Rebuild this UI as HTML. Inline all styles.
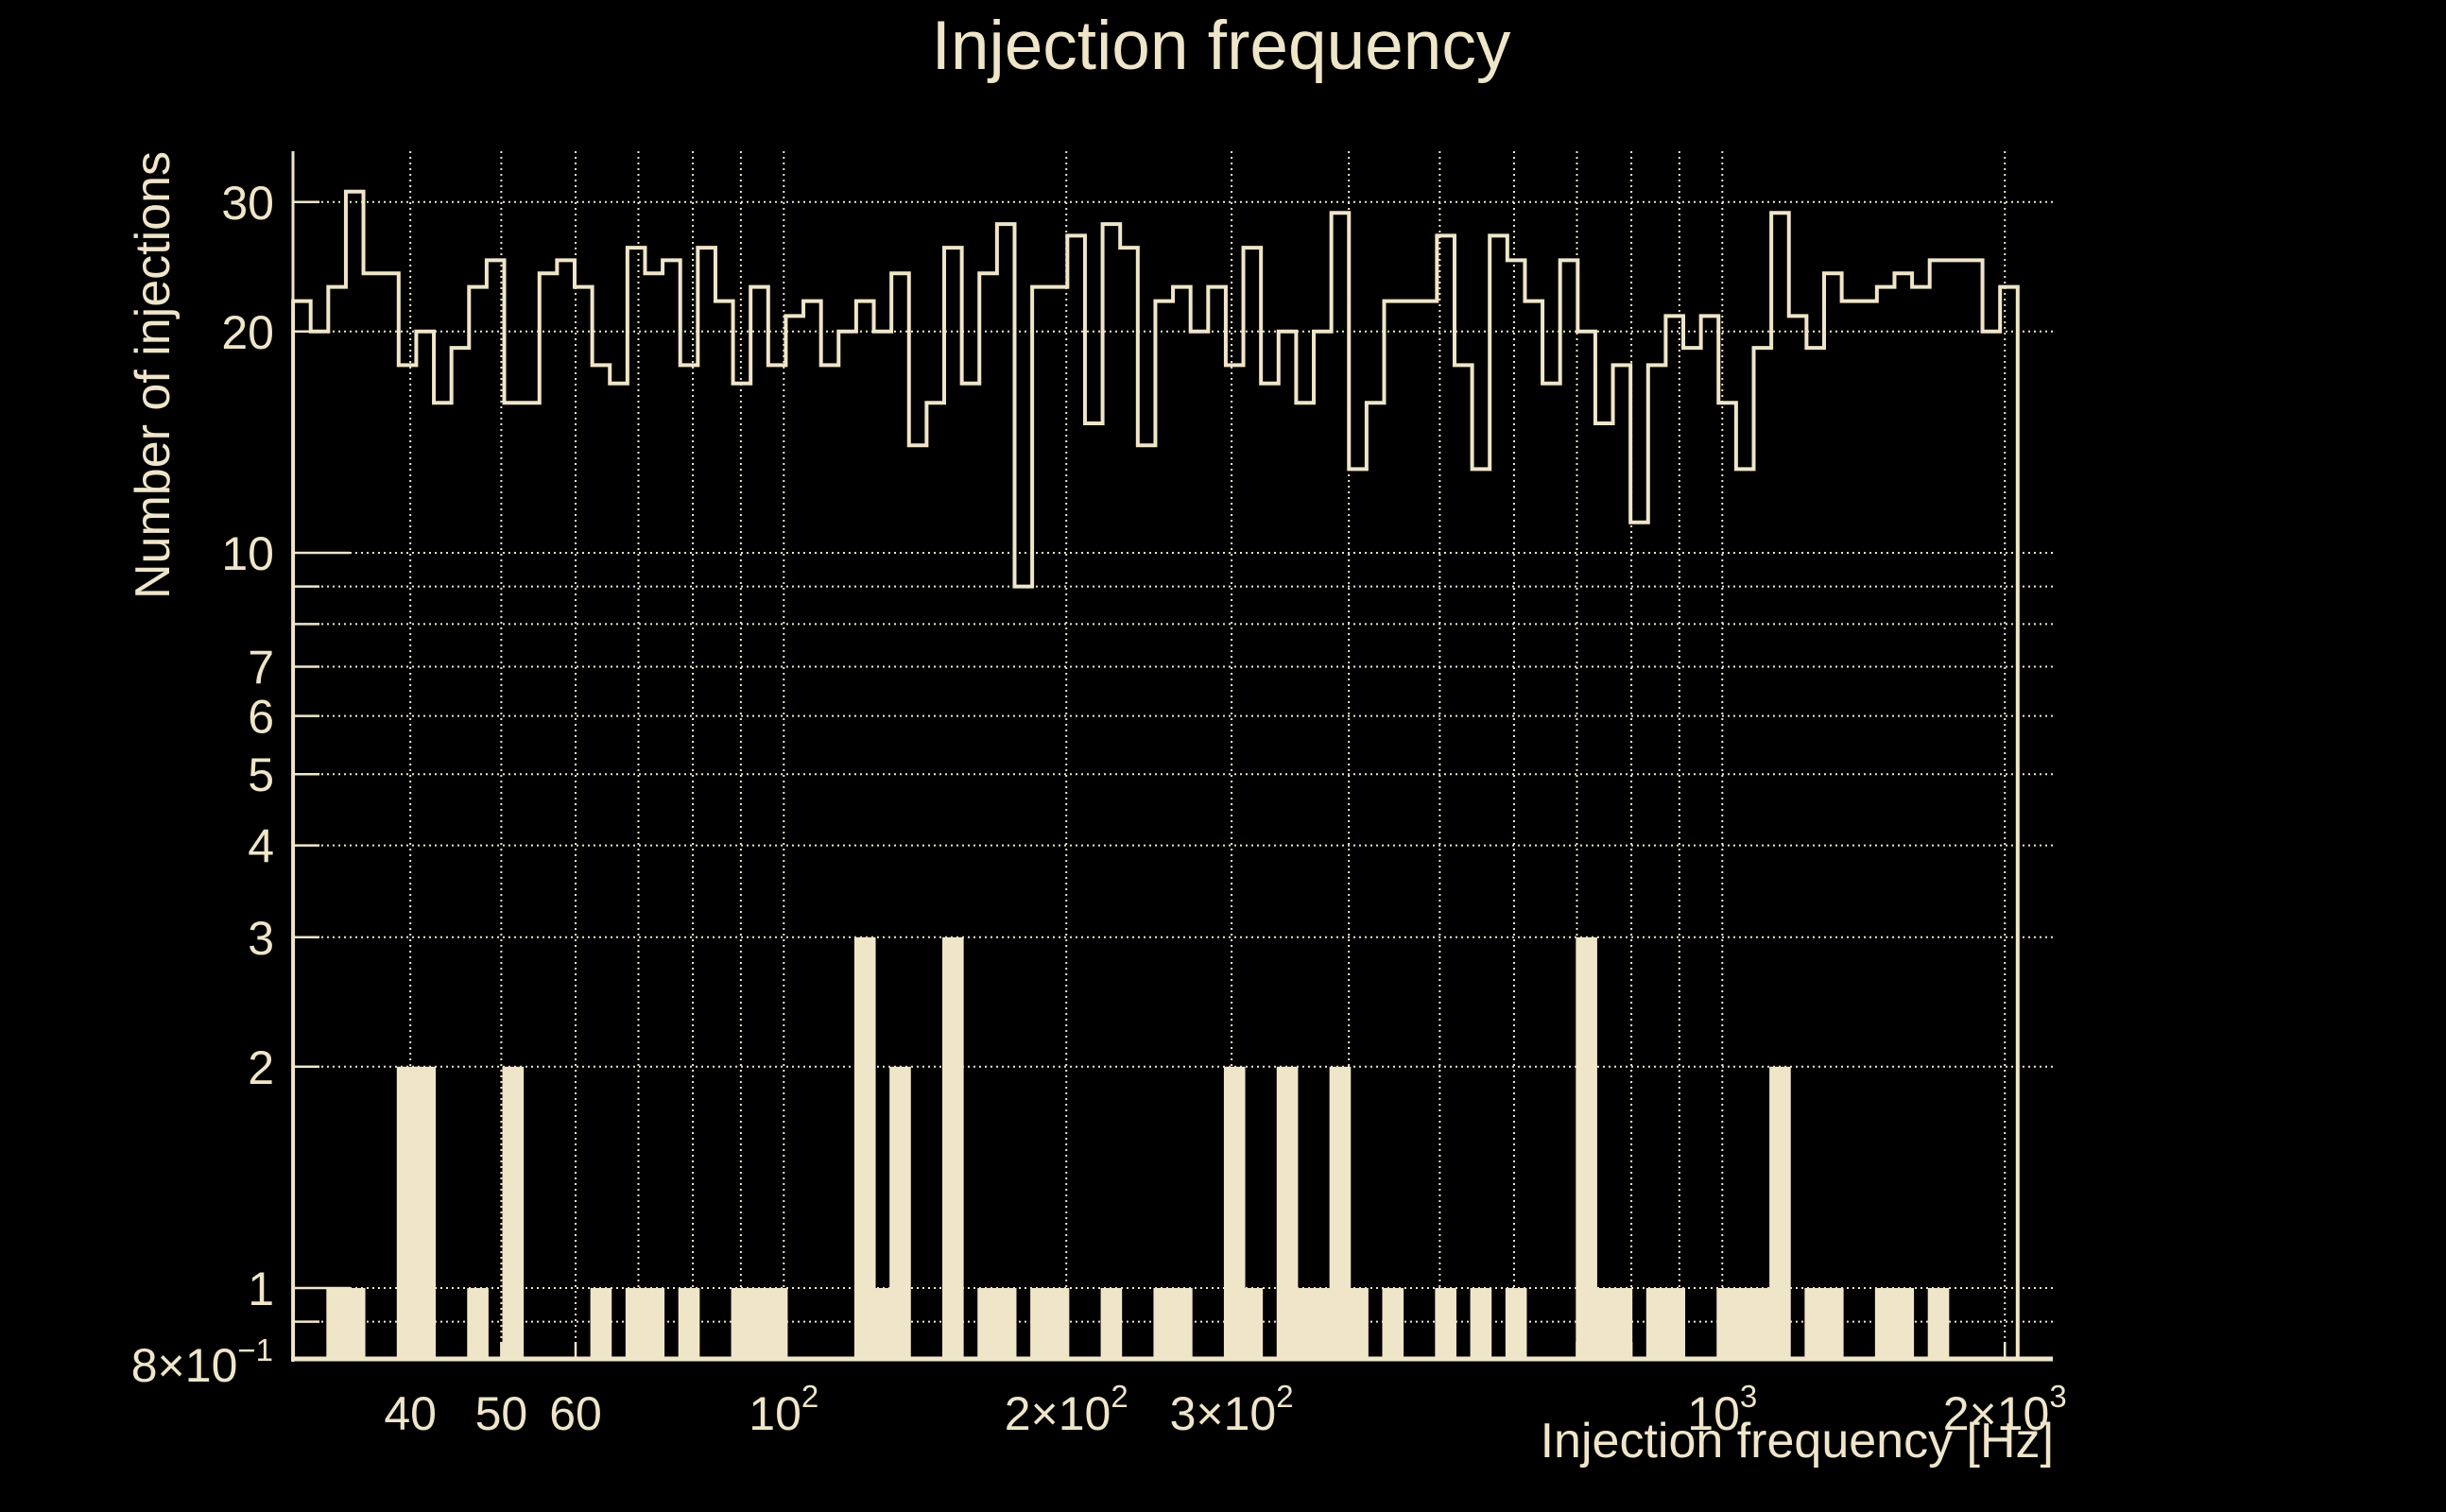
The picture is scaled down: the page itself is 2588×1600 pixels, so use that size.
<!DOCTYPE html>
<html><head><meta charset="utf-8"><title>Injection frequency</title>
<style>
html,body{margin:0;padding:0;background:#000;}
svg{display:block;}
text{font-family:"Liberation Sans",Arial,sans-serif;fill:#efe5c9;}
</style></head>
<body>
<svg id="chart" xmlns="http://www.w3.org/2000/svg" width="2588" height="1600" viewBox="0 0 2588 1600">
<rect x="0" y="0" width="2588" height="1600" fill="#000"/>
<g id="grid"></g>
<g id="bars"></g>
<g id="line"></g>
<g id="axes"></g>
<text x="1292" y="73" font-size="73" text-anchor="middle">Injection frequency</text>
<text x="2173" y="1542" font-size="52" text-anchor="end">Injection frequency [Hz]</text>
<text transform="translate(179,160) rotate(-90)" font-size="52" text-anchor="end">Number of injections</text>
</svg>
<script>
const lineCounts = [22,20,23,31,24,24,18,20,16,19,23,25,16,16,24,25,23,18,17,26,24,25,18,26,22,17,23,18,21,22,18,20,22,20,24,14,16,26,17,24,28,9,23,23,27,15,28,26,14,22,23,20,23,18,26,17,20,16,20,29,13,16,22,22,22,27,18,13,27,25,22,17,25,20,15,18,11,18,21,19,21,16,13,19,29,21,19,24,22,22,23,24,23,25,25,25,20,23];
const barCounts = [0,0,1,1,0,0,2,2,0,0,1,0,2,0,0,0,0,1,0,1,1,0,1,0,0,1,1,1,0,0,0,0,3,1,2,0,0,3,0,1,1,0,1,1,0,0,1,0,0,1,1,0,0,2,1,0,2,1,1,2,1,0,1,0,0,1,0,1,0,1,0,0,0,3,1,1,0,1,1,0,0,1,1,1,2,0,1,1,0,0,1,1,0,1,0,0,0,0];
const binRange = [30, 2064];
const xGridValues = [40,50,60,70,80,90,100,200,300,400,500,600,700,800,900,1000,2000];
const yGridValues = [0.9,1,2,3,4,5,6,7,8,9,10,20,30];
const yTickLabels = ["1","2","3","4","5","6","7","10","20","30"];
const yTickLabelValues = [1,2,3,4,5,6,7,10,20,30];

const NS = "http://www.w3.org/2000/svg";
const COL = "#efe5c9";
const X0 = 310, X1 = 2172, Y0 = 1438, YT = 160;
function xs(f){ return 829.3 + 993*Math.log10(f/100); }
function ys(v){ return 585 - 778*Math.log10(v/10); }
function mk(tag, attrs, parent){
  const e = document.createElementNS(NS, tag);
  for (const k in attrs) e.setAttribute(k, attrs[k]);
  parent.appendChild(e); return e;
}
const grid = document.getElementById('grid');
const bars = document.getElementById('bars');
const lineG = document.getElementById('line');
const axes = document.getElementById('axes');
const svg = document.getElementById('chart');

xGridValues.forEach(v=>{
  const l = mk('line',{x1:xs(v),x2:xs(v),y1:YT,y2:Y0,stroke:COL,'stroke-width':2,'stroke-dasharray':'2 4'},grid);
  
  
});
yGridValues.forEach(v=>{
  const l = mk('line',{x1:X0,x2:X1,y1:ys(v),y2:ys(v),stroke:COL,'stroke-width':2,'stroke-dasharray':'2 4'},grid);
  
  
});

const n = lineCounts.length;
const lf0 = Math.log10(binRange[0]), lf1 = Math.log10(binRange[1]);
function edge(i){ return xs(Math.pow(10, lf0 + (lf1-lf0)*i/n)); }

barCounts.forEach((c,i)=>{
  if (c<=0) return;
  const xa = edge(i)-2, xb = edge(i+1)+2;
  const r = mk('rect',{x:xa,y:ys(c),width:xb-xa,height:Y0-ys(c),fill:'#efe5c9'},bars);
  
  
});

let d = 'M'+edge(0)+','+Y0;
lineCounts.forEach((c,i)=>{
  d += ' L'+edge(i)+','+ys(c)+' L'+edge(i+1)+','+ys(c);
});
d += ' L'+edge(n)+','+Y0;
const p = mk('path',{d:d,fill:'none',stroke:COL,'stroke-width':4,'stroke-linejoin':'miter'},lineG);



const ya = mk('line',{x1:X0,x2:X0,y1:YT,y2:Y0+3,stroke:COL,'stroke-width':3},axes);


const xa = mk('line',{x1:X0-2,x2:X1,y1:Y0,y2:Y0,stroke:COL,'stroke-width':5},axes);


yGridValues.forEach(v=>{
  const len = (v===1||v===10)?60:28;
  const t = mk('line',{x1:X0,x2:X0+len,y1:ys(v),y2:ys(v),stroke:COL,'stroke-width':2.5},axes);
  
  
});
xGridValues.forEach(v=>{
  const len = (v===100||v===1000)?40:18;
  const t = mk('line',{x1:xs(v),x2:xs(v),y1:Y0,y2:Y0-len,stroke:COL,'stroke-width':2.5},axes);
  
  
});

yTickLabels.forEach((s,i)=>{
  const t = mk('text',{x:290,y:ys(yTickLabelValues[i])+18,'font-size':50,'text-anchor':'end'},svg);
  t.textContent = s;
  
  
});
const yl = mk('text',{x:289,y:1462,'font-size':50,'text-anchor':'end'},svg);
yl.innerHTML = '8×10<tspan dy="-22" font-size="33">−1</tspan>';



const xLabels = [[40,'40'],[50,'50'],[60,'60']];
xLabels.forEach(a=>{
  const t = mk('text',{x:xs(a[0]),y:1513,'font-size':50,'text-anchor':'middle'},svg);
  t.textContent = a[1];
  
  
});
const xPow = [[100,'','2'],[200,'2×','2'],[300,'3×','2'],[1000,'','3'],[2000,'2×','3']];
xPow.forEach(a=>{
  const t = mk('text',{x:xs(a[0]),y:1513,'font-size':50,'text-anchor':'middle'},svg);
  t.innerHTML = a[1]+'10<tspan dy="-24" font-size="33">'+a[2]+'</tspan>';
  
  
});
</script>
</body></html>
